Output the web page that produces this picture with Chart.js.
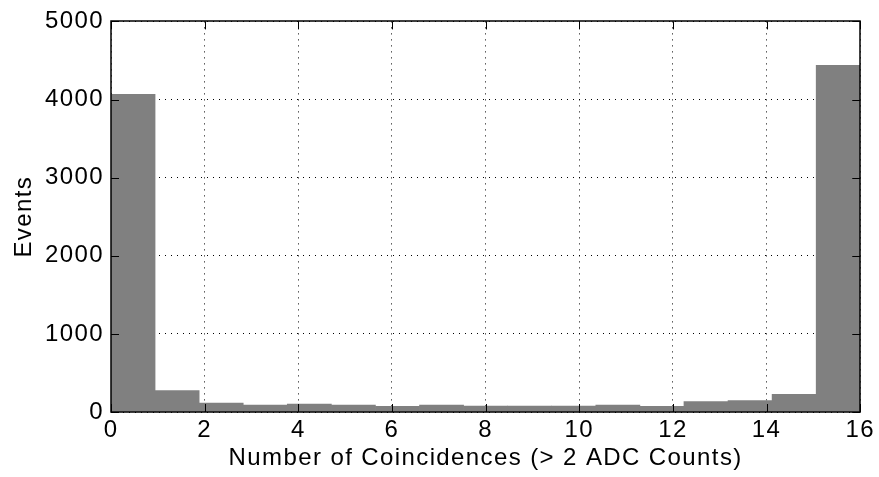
<!DOCTYPE html>
<html>
<head>
<meta charset="utf-8">
<script src="https://cdn.jsdelivr.net/npm/chart.js@4/dist/chart.umd.min.js"></script>
<style>
  html, body { margin: 0; padding: 0; background: #fff; }
</style>
</head>
<body>
<canvas id="chart" width="879" height="477"></canvas>
<script>
// 17 histogram bins spread over 0..16
const binLabels = ['0', '1', '2', '3', '4', '5', '6', '7', '8', '9', '10', '11', '12', '13', '14', '15', '16'];
const eventCounts = [4068, 274, 115, 90, 102, 90, 73, 90, 77, 77, 77, 90, 73, 132, 145, 226, 4437];
const xTickValues = [0, 2, 4, 6, 8, 10, 12, 14, 16];
const yTickValues = [0, 1000, 2000, 3000, 4000, 5000];

Chart.defaults.font.family = '"Liberation Sans", Arial, sans-serif';
Chart.defaults.font.size = 24;
Chart.defaults.color = '#000';

// the original lettering is a bit wider than Liberation Sans
const spacing = {
  id: 'spacing',
  beforeUpdate(chart) { chart.ctx.letterSpacing = '1.4px'; },
  beforeDraw(chart) { chart.ctx.letterSpacing = '1.4px'; }
};

// box round the plot plus inward tick marks, like the original figure
const frame = {
  id: 'frame',
  afterDatasetsDraw(chart) {
    const { ctx, chartArea: a, scales } = chart;
    const len = 8;
    ctx.save();
    ctx.strokeStyle = '#000';
    ctx.lineWidth = 1;
    ctx.beginPath();
    xTickValues.forEach(v => {
      const px = Math.round(scales.xAxis.getPixelForValue(v)) + 0.5;
      ctx.moveTo(px, a.bottom); ctx.lineTo(px, a.bottom - len);
      ctx.moveTo(px, a.top); ctx.lineTo(px, a.top + len);
    });
    yTickValues.forEach(v => {
      const py = Math.round(scales.y.getPixelForValue(v)) + 0.5;
      ctx.moveTo(a.left, py); ctx.lineTo(a.left + len, py);
      ctx.moveTo(a.right, py); ctx.lineTo(a.right - len, py);
    });
    ctx.stroke();
    ctx.lineWidth = 1.5;
    ctx.strokeRect(Math.round(a.left), Math.round(a.top), Math.round(a.right - a.left), Math.round(a.bottom - a.top));
    ctx.restore();
  }
};

new Chart(document.getElementById('chart'), {
  type: 'bar',
  data: {
    labels: binLabels,
    datasets: [{
      data: eventCounts,
      xAxisID: 'bins',
      backgroundColor: '#808080',
      borderWidth: 0,
      barPercentage: 1,
      categoryPercentage: 1
    }]
  },
  options: {
    responsive: false,
    devicePixelRatio: 1,
    animation: false,
    layout: { padding: { left: 0, right: 16, top: 20, bottom: 0 } },
    plugins: { legend: { display: false }, tooltip: { enabled: false } },
    scales: {
      bins: { type: 'category', display: false, offset: true },
      xAxis: {
        type: 'linear',
        position: 'bottom',
        offset: false,
        min: 0,
        max: 16,
        afterBuildTicks: s => { s.ticks = xTickValues.map(v => ({ value: v })); },
        afterFit: s => { s.height = 65; },
        ticks: { padding: 4, maxRotation: 0, callback: v => String(v) },
        grid: { offset: false, color: '#000', lineWidth: 1, drawTicks: false },
        border: { display: false, dash: [1, 5] },
        title: { display: true, text: 'Number of Coincidences (> 2 ADC Counts)', padding: { top: 0, bottom: 4 } }
      },
      y: {
        min: 0,
        max: 5000,
        afterBuildTicks: s => { s.ticks = yTickValues.map(v => ({ value: v })); },
        afterFit: s => { s.width = 111; },
        ticks: { padding: 7, callback: v => String(v) },
        grid: { color: '#000', lineWidth: 1, drawTicks: false },
        border: { display: false, dash: [1, 5] },
        title: { display: true, text: 'Events', padding: { top: 10, bottom: 0 } }
      }
    }
  },
  plugins: [spacing, frame]
});
</script>
</body>
</html>
